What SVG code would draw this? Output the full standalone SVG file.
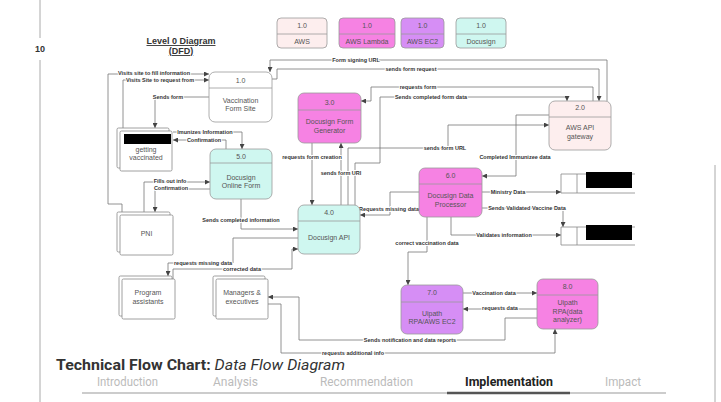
<svg xmlns="http://www.w3.org/2000/svg" width="721" height="402" viewBox="0 0 721 402">
<defs>
<marker id="ah" markerUnits="userSpaceOnUse" markerWidth="5" markerHeight="5" refX="5" refY="2.5" orient="auto">
<path d="M0,0 L5,2.5 L0,5 z" fill="#444"/>
</marker>
<style>
.n{stroke:#999;stroke-width:0.8}
.w{fill:#ffffff}
.aws{fill:#fdeeee}
.lam{fill:#f682e3}
.ec2{fill:#d68ef5}
.doc{fill:#cff7f0}
.dv{stroke:#999;stroke-width:0.8;fill:none}
.t{font-family:"Liberation Sans",Arial,sans-serif;font-size:7px;fill:#555;text-anchor:middle}
.c path{fill:none;stroke:#777;stroke-width:0.8}
.c path.a{marker-end:url(#ah)}
.l{font-family:"Liberation Sans",Arial,sans-serif;font-size:5.5px;font-weight:bold;fill:#333;text-anchor:middle;stroke:#fff;stroke-width:2;paint-order:stroke;stroke-linejoin:round}
.s{fill:#fff;stroke:#888;stroke-width:0.8}
.tab{font-family:Roboto,"Liberation Sans",sans-serif;font-size:12px;fill:#bbb}
</style>
</defs>
<rect width="721" height="402" fill="#fff"/>
<g id="page">
<line x1="40" y1="0" x2="40" y2="38" stroke="#aaa" stroke-width="1"/>
<line x1="40" y1="60" x2="40" y2="402" stroke="#aaa" stroke-width="1"/>
<line x1="715" y1="165" x2="715" y2="402" stroke="#aaa" stroke-width="1"/>
<text x="40" y="52" font-family="Liberation Sans,Arial,sans-serif" font-size="9" font-weight="bold" fill="#333" text-anchor="middle">10</text>
<text x="181" y="44" font-family="Liberation Sans,Arial,sans-serif" font-size="9" font-weight="bold" fill="#333" text-anchor="middle" text-decoration="underline">Level 0 Diagram</text>
<text x="181" y="54" font-family="Liberation Sans,Arial,sans-serif" font-size="9" font-weight="bold" fill="#333" text-anchor="middle" text-decoration="underline">(DFD)</text>
</g>
<g id="legend-aws"><rect class="n aws" x="277" y="18" width="50" height="30" rx="4"/><line class="dv" x1="277" y1="34" x2="327" y2="34"/><text class="t" x="302" y="28">1.0</text><text class="t" x="302" y="43.5">AWS</text></g>
<g id="legend-lambda"><rect class="n lam" x="339" y="18" width="56" height="30" rx="4"/><line class="dv" x1="339" y1="34" x2="395" y2="34"/><text class="t" x="367" y="28">1.0</text><text class="t" x="367" y="43.5">AWS Lambda</text></g>
<g id="legend-ec2"><rect class="n ec2" x="401" y="18" width="43" height="30" rx="4"/><line class="dv" x1="401" y1="34" x2="444" y2="34"/><text class="t" x="422.5" y="28">1.0</text><text class="t" x="422.5" y="43.5">AWS EC2</text></g>
<g id="legend-docusign"><rect class="n doc" x="456" y="18" width="50" height="30" rx="4"/><line class="dv" x1="456" y1="34" x2="506" y2="34"/><text class="t" x="481" y="28">1.0</text><text class="t" x="481" y="43.5">Docusign</text></g>

<g id="connectors" class="c">
<path class="a" d="M122,212 V204 H108 V74 H209"/>
<path class="a" d="M123,128 V80 H209"/>
<path class="a" d="M209,97 H155 V128"/>
<path class="a" d="M173,132 H242 V149"/>
<path class="a" d="M226,149 V140 H173"/>
<path class="a" d="M144,212 V182 H210"/>
<path class="a" d="M210,189 H155 V212"/>
<path class="a" d="M241,199 V229 H298"/>
<path class="a" d="M312,143 V205"/>
<path class="a" d="M341,205 V143"/>
<path class="a" d="M348,205 V148 H448 V125 H549"/>
<path class="a" d="M355,205 V163 H380 V97 H567 V101"/>
<path class="a" d="M593,101 V87 H371 V101 H361"/>
<path class="a" d="M607,101 V60 H270 V72"/>
<path class="a" d="M272,79 H277 V69 H599 V101"/>
<path class="a" d="M549,115 H516 V176 H482"/>
<path class="a" d="M482,192 H561"/>
<path class="a" d="M482,208 H563 V227"/>
<path class="a" d="M451,217 V235 H561"/>
<path class="a" d="M419,192 H390 V215 H360"/>
<path class="a" d="M427,217 V252 H408 V285"/>
<path class="a" d="M463,293 H537"/>
<path class="a" d="M537,309 H463"/>
<path class="a" d="M537,318 H505 V340 H299 V297 H268"/>
<path class="a" d="M268,304 H281 V353 H555 V329"/>
<path class="a" d="M298,238 H233 V263 H168 V276"/>
<path class="a" d="M173,279 V269 H292 V249 H298"/>
</g>
<g id="connector-labels">
<text class="l" x="154" y="75">Visits site to fill information</text>
<text class="l" x="160" y="82">Visits Site to request from</text>
<text class="l" x="168" y="99">Sends form</text>
<text class="l" x="205" y="134">Imunizes Information</text>
<text class="l" x="204" y="142">Confirmation</text>
<text class="l" x="170" y="183">Fills out info</text>
<text class="l" x="171" y="190">Confirmation</text>
<text class="l" x="241" y="222">Sends completed information</text>
<text class="l" x="312" y="159">requests form creation</text>
<text class="l" x="341" y="175">sends form URl</text>
<text class="l" x="445" y="150">sends form URL</text>
<text class="l" x="431" y="99">Sends completed form data</text>
<text class="l" x="418" y="89">requests form</text>
<text class="l" x="356" y="62">Form signing URL</text>
<text class="l" x="411" y="71">sends form request</text>
<text class="l" x="515" y="159">Completed Immunizee data</text>
<text class="l" x="508" y="194">Ministry Data</text>
<text class="l" x="527" y="210">Sends Validated Vaccine Data</text>
<text class="l" x="504" y="237">Validates information</text>
<text class="l" x="389" y="211">Requests missing data</text>
<text class="l" x="427" y="245">correct vaccination data</text>
<text class="l" x="494" y="295">Vaccination data</text>
<text class="l" x="500" y="310">requests data</text>
<text class="l" x="410" y="342">Sends notification and data reports</text>
<text class="l" x="353" y="355">requests additional info</text>
<text class="l" x="203" y="265">requests missing data</text>
<text class="l" x="242" y="271">corrected data</text>
</g>

<g id="node-1"><rect class="n w" x="209" y="72" width="63" height="50" rx="6"/><line class="dv" x1="209" y1="88" x2="272" y2="88"/><text class="t" x="240.5" y="82.5">1.0</text><text class="t" x="240.5" y="102.5">Vaccination</text><text class="t" x="240.5" y="110.5">Form Site</text></g>
<g id="node-3"><rect class="n lam" x="298" y="93" width="63" height="50" rx="6"/><line class="dv" x1="298" y1="110" x2="361" y2="110"/><text class="t" x="329.5" y="104.5">3.0</text><text class="t" x="329.5" y="124">Docusign Form</text><text class="t" x="329.5" y="132.5">Generator</text></g>
<g id="node-2"><rect class="n aws" x="549" y="101" width="62" height="49" rx="6"/><line class="dv" x1="549" y1="117" x2="611" y2="117"/><text class="t" x="580" y="109.5">2.0</text><text class="t" x="580" y="130">AWS API</text><text class="t" x="580" y="138.5">gateway</text></g>
<g id="node-5"><rect class="n doc" x="210" y="149" width="62" height="50" rx="6"/><line class="dv" x1="210" y1="163" x2="272" y2="163"/><text class="t" x="241" y="158.5">5.0</text><text class="t" x="241" y="180">Docusign</text><text class="t" x="241" y="188">Online Form</text></g>
<g id="node-4"><rect class="n doc" x="298" y="205" width="62" height="49" rx="6"/><line class="dv" x1="298" y1="221" x2="360" y2="221"/><text class="t" x="329" y="214.5">4.0</text><text class="t" x="329" y="240">Docusign API</text></g>
<g id="node-6"><rect class="n lam" x="419" y="168" width="63" height="49" rx="6"/><line class="dv" x1="419" y1="184" x2="482" y2="184"/><text class="t" x="450.5" y="177.5">6.0</text><text class="t" x="450.5" y="198">Docusign Data</text><text class="t" x="450.5" y="206.5">Processor</text></g>
<g id="node-7"><rect class="n ec2" x="401" y="285" width="62" height="49" rx="6"/><line class="dv" x1="401" y1="302" x2="463" y2="302"/><text class="t" x="432" y="295">7.0</text><text class="t" x="432" y="316">Uipath</text><text class="t" x="432" y="324">RPA/AWS EC2</text></g>
<g id="node-8"><rect class="n lam" x="537" y="279" width="61" height="50" rx="6"/><line class="dv" x1="537" y1="295" x2="598" y2="295"/><text class="t" x="567.5" y="288.5">8.0</text><text class="t" x="567.5" y="305">Uipath</text><text class="t" x="567.5" y="313.5">RPA(data</text><text class="t" x="567.5" y="322">analyzer)</text></g>

<g id="ext-getting-vaccinated"><rect class="s" x="117" y="128" width="52" height="40" rx="1.5"/><rect class="s" x="120" y="131" width="52" height="40" rx="1.5"/><rect x="124" y="134" width="47" height="10" fill="#000"/><text class="t" x="146" y="151.5">getting</text><text class="t" x="146" y="159.5">vaccinated</text></g>
<g id="ext-pni"><rect class="s" x="117" y="212" width="53" height="40" rx="1.5"/><rect class="s" x="120" y="215" width="53" height="40" rx="1.5"/><text class="t" x="146.5" y="235.5">PNI</text></g>
<g id="ext-program-assistants"><rect class="s" x="119" y="276" width="53" height="40" rx="1.5"/><rect class="s" x="122" y="279" width="53" height="40" rx="1.5"/><text class="t" x="148" y="295">Program</text><text class="t" x="148" y="303.5">assistants</text></g>
<g id="ext-managers"><rect class="s" x="213" y="276" width="52" height="40" rx="1.5"/><rect class="s" x="216" y="279" width="52" height="40" rx="1.5"/><text class="t" x="242" y="295">Managers &amp;</text><text class="t" x="242" y="303.5">executives</text></g>

<g id="store-1"><path d="M635,174 H561 V193 H635 M577,174 V193" fill="none" stroke="#888" stroke-width="0.8"/><rect x="586" y="172" width="46" height="16" fill="#000"/></g>
<g id="store-2"><path d="M635,227 H561 V245 H635 M577,227 V245" fill="none" stroke="#888" stroke-width="0.8"/><rect x="586" y="225" width="46" height="15" fill="#000"/></g>

<g id="footer">
<text x="56" y="370" font-family="Roboto,'Liberation Sans',sans-serif" font-size="15.5" fill="#333" textLength="289" lengthAdjust="spacingAndGlyphs"><tspan font-weight="bold">Technical Flow Chart: </tspan><tspan font-style="italic">Data Flow Diagram</tspan></text>
<text class="tab" x="97" y="386" textLength="61" lengthAdjust="spacingAndGlyphs">Introduction</text>
<text class="tab" x="213" y="386" textLength="45" lengthAdjust="spacingAndGlyphs">Analysis</text>
<text class="tab" x="320" y="386" textLength="93" lengthAdjust="spacingAndGlyphs">Recommendation</text>
<text class="tab" x="465" y="386" textLength="88" lengthAdjust="spacingAndGlyphs" style="fill:#222;font-weight:bold">Implementation</text>
<text class="tab" x="605" y="386" textLength="36" lengthAdjust="spacingAndGlyphs">Impact</text>
<line x1="82" y1="393" x2="666" y2="393" stroke="#ccc" stroke-width="2"/>
<line x1="447" y1="393" x2="570" y2="393" stroke="#555" stroke-width="2.5"/>
</g>
</svg>
